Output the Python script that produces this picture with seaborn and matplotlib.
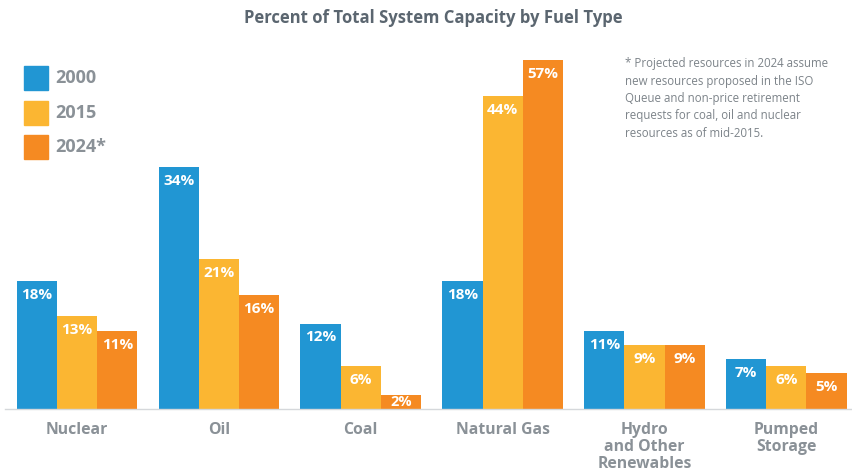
import matplotlib
matplotlib.use("Agg")
import matplotlib.pyplot as plt
import seaborn as sns
import pandas as pd
import numpy as np

categories = ["Nuclear", "Oil", "Coal", "Natural Gas",
              "Hydro\nand Other\nRenewables", "Pumped\nStorage"]
years = ["2000", "2015", "2024*"]
v2000 = [18, 34, 12, 18, 11, 7]
v2015 = [13, 21, 6, 44, 9, 6]
v2024 = [11, 16, 2, 57, 9, 5]
colors = ["#2196D3", "#FBB632", "#F58A22"]
title = "Percent of Total System Capacity by Fuel Type"
note = ("* Projected resources in 2024 assume\nnew resources proposed in the ISO\n"
        "Queue and non-price retirement\nrequests for coal, oil and nuclear\n"
        "resources as of mid-2015.")

rows = []
for yr, vals in zip(years, [v2000, v2015, v2024]):
    for c, v in zip(categories, vals):
        rows.append({"cat": c, "year": yr, "val": v})
df = pd.DataFrame(rows)

sns.set_theme(style="white")
plt.rcParams['font.family'] = ['Open Sans', 'DejaVu Sans']

fig = plt.figure(figsize=(8.53, 4.72), dpi=100)
ax = fig.add_axes([5/853, 1 - 409/472, 848/853, 349/472])

sns.barplot(data=df, x="cat", y="val", hue="year", order=categories,
            hue_order=years, palette=colors, width=0.85, saturation=1,
            ax=ax, legend=False, edgecolor="none", linewidth=0)

ymax = 49
ax.set_ylim(0, ymax)
ax.set_xlim(-0.508, 5.47)

for cont in ax.containers:
    for p in cont.patches:
        h = p.get_height()
        top = min(h, ymax)
        xc = p.get_x() + p.get_width() / 2
        if h < 4:
            ax.annotate(f"{h:.0f}%", (xc, 0), xytext=(0, 2),
                        textcoords="offset points", ha="center", va="baseline",
                        color="white", fontsize=10.5, fontweight="bold")
        else:
            ax.annotate(f"{h:.0f}%", (xc, top), xytext=(0, -5),
                        textcoords="offset points", ha="center", va="top",
                        color="white", fontsize=11, fontweight="bold",
                        clip_on=False)

for s in ["top", "right", "left"]:
    ax.spines[s].set_visible(False)
ax.spines["bottom"].set_color("#d5d8db")
ax.spines["bottom"].set_linewidth(1)
ax.set_yticks([])
ax.set_xlabel("")
ax.set_ylabel("")
ax.tick_params(axis="x", which="major", length=0, pad=9,
               labelsize=11.3, labelcolor="#8a9197")
for lbl in ax.get_xticklabels():
    lbl.set_fontweight("bold")
    lbl.set_va("top")
    lbl.set_linespacing(1.12)
ax.set_xticks(np.arange(-0.5, 5.0, 1.0), minor=True)
ax.tick_params(axis="x", which="minor", length=5, direction="inout",
               color="#d5d8db", width=1)

fig.text(433/853, 1 - 18/472, title, ha="center", va="center",
         fontsize=12, fontweight="bold", color="#5b6670",
         family=['Liberation Sans Narrow', 'Open Sans', 'DejaVu Sans'])

# legend
for i, (yr, col) in enumerate(zip(years, colors)):
    y = 78 + i * 34.5
    fig.patches.append(plt.Rectangle((24/853, 1 - (y + 12)/472), 24/853, 24/472,
                                     transform=fig.transFigure, color=col))
    fig.text(55/853, 1 - y/472, yr, ha="left", va="center", fontsize=13,
             fontweight="bold", color="#8a9197",
             family=['Liberation Sans Narrow', 'Open Sans', 'DejaVu Sans'])

fig.text(625/853, 1 - 57/472, note, ha="left", va="top", fontsize=8.3,
         color="#7c8389", linespacing=1.45)

fig.savefig("out.png", dpi=100)
